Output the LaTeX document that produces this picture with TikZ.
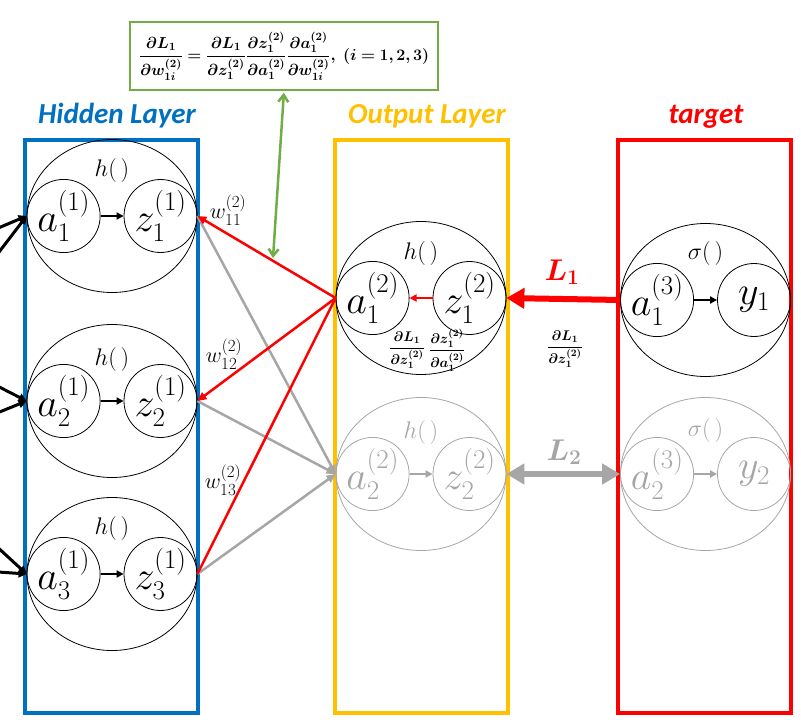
\RequirePackage{fix-cm}
\documentclass[tikz,border=0pt]{standalone}
\usepackage{amsmath,amssymb,bm}
\usepackage{fontspec}
\newfontfamily\titlefont{Carlito}
\usetikzlibrary{positioning,shapes.geometric,arrows.meta,calc}

\DeclareMathSizes{40}{40}{27}{19}
\DeclareMathSizes{22}{22}{17}{12}

\definecolor{hidblue}{HTML}{0070C0}
\definecolor{outyellow}{HTML}{FFC000}
\definecolor{tgtred}{HTML}{FF0000}
\definecolor{fgreen}{HTML}{70AD47}
\definecolor{linkgray}{HTML}{A6A6A6}

\begin{document}
\begin{tikzpicture}[
    x=1pt, y=-1pt,
    layer/.style={rectangle, draw, line width=4pt, minimum width=173pt, minimum height=573pt},
    ring/.style={ellipse, draw, line width=0.8pt, minimum width=170pt, minimum height=153pt, inner sep=0pt},
    cell/.style={circle, draw, line width=0.8pt, minimum size=73pt, inner sep=0pt, font=\fontsize{40}{44}\selectfont},
    fn/.style={font=\fontsize{24}{26}\selectfont},
    weight/.style={font=\fontsize{22}{24}\selectfont},
    grad/.style={font=\fontsize{14}{16}\selectfont},
    lossname/.style={font=\fontsize{30}{32}\selectfont},
    title/.style={anchor=base, font=\titlefont\bfseries\itshape\fontsize{29}{31}\selectfont},
    unitarrow/.style={line width=2.5pt, -{Triangle[length=7pt,width=7pt]}},
    link/.style={line width=2.5pt, -{Triangle[length=9pt,width=8pt]}},
    feed/.style={line width=3pt, -{Triangle[length=8pt,width=8pt]}},
    loss/.style={line width=6pt, -{Triangle[length=18pt,width=20pt]}},
    faded/.style={draw=linkgray, text=linkgray},
]
\clip (0,0) rectangle (801,728);

% Layers
\node[layer, draw=hidblue] (hidden) at (111.5,426.5) {};
\node[layer, draw=outyellow] (output) at (421,426.5) {};
\node[layer, draw=tgtred] (target) at (704.5,426.5) {};

\node[title, text=hidblue] at (117,123) {Hidden Layer};
\node[title, text=outyellow] at (427,123) {Output Layer};
\node[title, text=tgtred] at (706,123) {target};

% Hidden layer units
\node[ring] (h1) at (112,216) {};
\node[cell, anchor=west] (a1) at (h1.west) {$a_1^{(1)}$};
\node[cell, anchor=east] (z1) at (h1.east) {$z_1^{(1)}$};
\node[fn] at ($(h1)+(0,-46)$) {$h(\,)$};

\node[ring] (h2) at (112,401) {};
\node[cell, anchor=west] (a2) at (h2.west) {$a_2^{(1)}$};
\node[cell, anchor=east] (z2) at (h2.east) {$z_2^{(1)}$};
\node[fn] at ($(h2)+(0,-42)$) {$h(\,)$};

\node[ring] (h3) at (112,574) {};
\node[cell, anchor=west] (a3) at (h3.west) {$a_3^{(1)}$};
\node[cell, anchor=east] (z3) at (h3.east) {$z_3^{(1)}$};
\node[fn] at ($(h3)+(0,-46)$) {$h(\,)$};

\draw[unitarrow] (a1) -- (z1);
\draw[unitarrow] (a2) -- (z2);
\draw[unitarrow] (a3) -- (z3);

% Output layer units
\node[ring] (o1) at (421,298) {};
\node[cell, anchor=west] (oa1) at (o1.west) {$a_1^{(2)}$};
\node[cell, anchor=east] (oz1) at (o1.east) {$z_1^{(2)}$};
\node[fn] at ($(o1)+(0,-45)$) {$h(\,)$};
\node[grad] (dLdz) at (407,350) {$\bm{\dfrac{\partial L_1}{\partial z_1^{(2)}}}$};
\node[grad] (dzda) at (447,350) {$\bm{\dfrac{\partial z_1^{(2)}}{\partial a_1^{(2)}}}$};
\draw[unitarrow, tgtred] (oz1) -- (oa1);

\node[ring, faded] (o2) at (421,474) {};
\node[cell, faded, anchor=west] (oa2) at (o2.west) {$a_2^{(2)}$};
\node[cell, faded, anchor=east] (oz2) at (o2.east) {$z_2^{(2)}$};
\node[fn, text=linkgray] at ($(o2)+(0,-42)$) {$h(\,)$};
\draw[unitarrow, linkgray] (oa2) -- (oz2);

% Target units
\node[ring] (t1) at (705.5,300) {};
\node[cell, anchor=west] (ta1) at (t1.west) {$a_1^{(3)}$};
\node[cell, anchor=east] (ty1) at (t1.east) {$y_1$};
\node[fn] at ($(t1)+(0,-47)$) {$\sigma(\,)$};
\draw[unitarrow] (ta1) -- (ty1);

\node[ring, faded] (t2) at (705.5,474) {};
\node[cell, faded, anchor=west] (ta2) at (t2.west) {$a_2^{(3)}$};
\node[cell, faded, anchor=east] (ty2) at (t2.east) {$y_2$};
\node[fn, text=linkgray] at ($(t2)+(0,-44)$) {$\sigma(\,)$};
\draw[unitarrow, linkgray] (ta2) -- (ty2);

% Inputs from the previous layer
\coordinate (in11) at (-30,240);
\coordinate (in12) at (-30,290);
\coordinate (in21) at (-30,372);
\coordinate (in22) at (-30,424);
\coordinate (in31) at (-30,522);
\coordinate (in32) at (-30,570);
\draw[feed] (in11) -- (a1.west);
\draw[feed] (in12) -- (a1.west);
\draw[feed] (in21) -- (a2.west);
\draw[feed] (in22) -- (a2.west);
\draw[feed] (in31) -- (a3.west);
\draw[feed] (in32) -- (a3.west);

% Weights into the output layer
\draw[link, linkgray] (z1.east) -- (oa2.west);
\draw[link, linkgray] (z2.east) -- (oa2.west);
\draw[link, linkgray] (z3.east) -- (oa2.west);
\draw[link, tgtred] (oa1.west) -- (z1.east);
\draw[link, tgtred] (oa1.west) -- (z2.east);
\draw[line width=2.5pt, tgtred] (oa1.west) -- (z3.east);

\node[weight] (w11) at (228,210) {$w_{11}^{(2)}$};
\node[weight] (w12) at (224,354) {$w_{12}^{(2)}$};
\node[weight] (w13) at (223,480) {$w_{13}^{(2)}$};

% Losses
\draw[loss, tgtred] (t1.west) -- (o1.east);
\node[lossname, text=tgtred] (L1) at (562,272) {$\bm{L_1}$};
\node[grad] (dL1) at (565,349) {$\bm{\dfrac{\partial L_1}{\partial z_1^{(2)}}}$};
\draw[loss, linkgray, {Triangle[length=18pt,width=20pt]}-{Triangle[length=18pt,width=20pt]}] (o2.east) -- (t2.west);
\node[lossname, text=linkgray] (L2) at (564,452) {$\bm{L_2}$};

% Chain rule
\node[grad, draw=fgreen, line width=1.5pt, minimum width=308pt, minimum height=68pt, font=\fontsize{16}{18}\selectfont] (chain) at (284,56)
  {$\bm{\dfrac{\partial L_1}{\partial w_{1i}^{(2)}} = \dfrac{\partial L_1}{\partial z_1^{(2)}}\dfrac{\partial z_1^{(2)}}{\partial a_1^{(2)}}\dfrac{\partial a_1^{(2)}}{\partial w_{1i}^{(2)}},\ (i=1,2,3)}$};
\coordinate (gtip) at (273,258);
\draw[fgreen, line width=2.5pt, {Straight Barb[length=7pt,width=10pt]}-{Straight Barb[length=7pt,width=10pt]}, shorten <=2pt] (chain.south) -- (gtip);

\end{tikzpicture}
\end{document}
